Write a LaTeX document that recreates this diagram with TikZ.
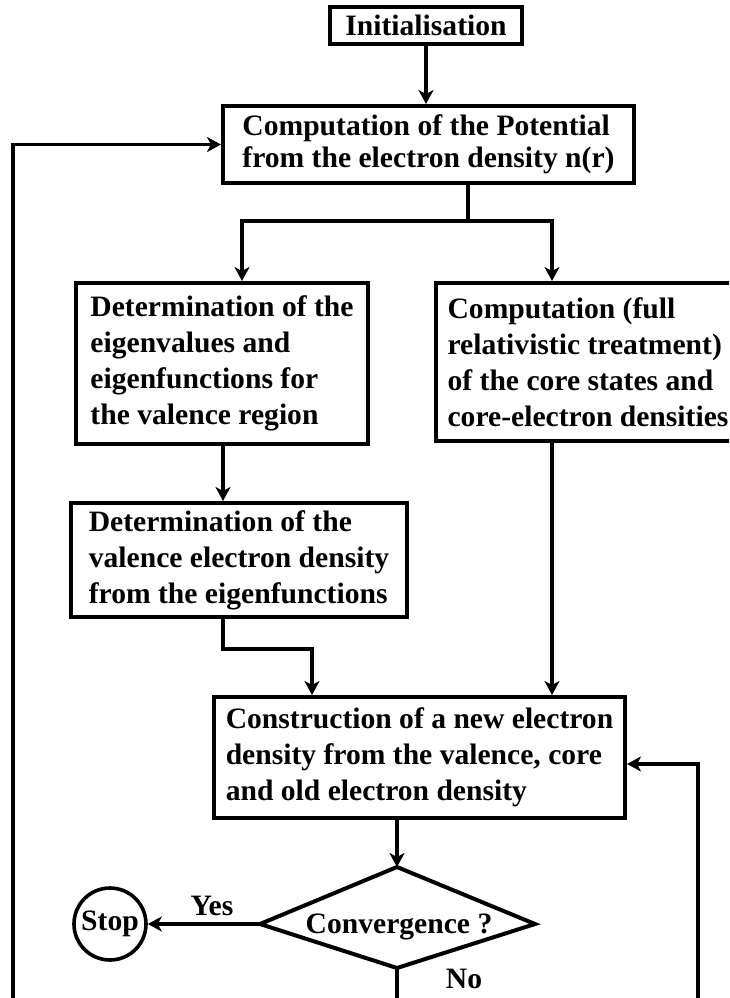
\documentclass[tikz,border=0pt]{standalone}
\usepackage{fontspec}
\setmainfont{Liberation Serif}
\usetikzlibrary{arrows.meta}
\begin{document}
\begin{tikzpicture}[x=1pt,y=-1pt,
  txt/.style={font=\bfseries\fontsize{29.6}{36}\selectfont},
  box/.style={txt,draw,line width=4pt,inner sep=0pt,align=left},
  conn/.style={line width=3.6pt},
  arr/.style={conn,-{Stealth[length=14pt,width=15pt,inset=4pt]}},
  lbl/.style={txt,inner sep=0pt}]
\useasboundingbox (0,0) rectangle (729,998);
\clip (0,0) rectangle (729,998);
% boxes
\node[box,align=center,minimum width=192pt,minimum height=37pt] (init) at (426,25.5) {Initialisation};
\node[box,font=\bfseries\fontsize{29.6}{32}\selectfont,minimum width=411pt,minimum height=77pt] (pot) at (428.5,144.5)
  {Computation of the Potential\\from the electron density n(r)};
\node[box,minimum width=292pt,minimum height=161pt] (eig) at (222,363.5)
  {Determination of the\\eigenvalues and\\eigenfunctions for\\the valence region};
\node[box,minimum width=304pt,minimum height=158pt] (core) at (588,362)
  {Computation (full\\relativistic treatment)\\of the core states and\\core-electron densities};
\node[box,minimum width=336pt,minimum height=114pt] (val) at (239,560)
  {Determination of the\\valence electron density\\from the eigenfunctions};
\node[box,minimum width=411pt,minimum height=121pt] (new) at (419.5,757.5)
  {Construction of a new electron\\density from the valence, core\\and old electron density};
% decision
\coordinate (dN) at (397,867);
\coordinate (dW) at (260,924);
\coordinate (dE) at (535,924);
\coordinate (dS) at (397,968);
\draw[line width=4pt] (dN) -- (dE) -- (dS) -- (dW) -- cycle;
\node[lbl,anchor=base] (conv) at (399,933) {Convergence ?};
\node[txt,draw,circle,line width=3.6pt,minimum size=72pt,inner sep=0pt] (stop) at (110,924) {Stop};
\node[lbl,anchor=base] (yes) at (212,915) {Yes};
\node[lbl,anchor=base] (no) at (464,988) {No};
% helper coordinates
\coordinate (br) at (468,221);
\coordinate (bL) at (242,221);
\coordinate (bR) at (552,221);
\coordinate (v1) at (223,649);
\coordinate (v2) at (312,649);
\coordinate (lfb) at (13,1012);
\coordinate (rfb) at (698,1012);
\coordinate (ry) at (0,764);
\coordinate (nob) at (397,1012);
% connectors
\draw[arr] (init.south) -- (init.south |- pot.north);
\draw[conn] (br |- pot.south) -- (br);
\draw[arr] (br) -- (bL) -- (bL |- eig.north);
\draw[arr] (br) -- (bR) -- (bR |- core.north);
\draw[arr] (v1 |- eig.south) -- (v1 |- val.north);
\draw[arr] (v1 |- val.south) -- (v1) -- (v2) -- (v2 |- new.north);
\draw[arr] (bR |- core.south) -- (bR |- new.north);
\draw[arr] (dN |- new.south) -- (dN);
\draw[arr] (dW) -- (stop);
\draw[conn] (dS) -- (nob);
\draw[arr] (rfb) |- (new.east |- ry);
\draw[arr] (lfb) |- (pot.west);
\end{tikzpicture}
\end{document}
